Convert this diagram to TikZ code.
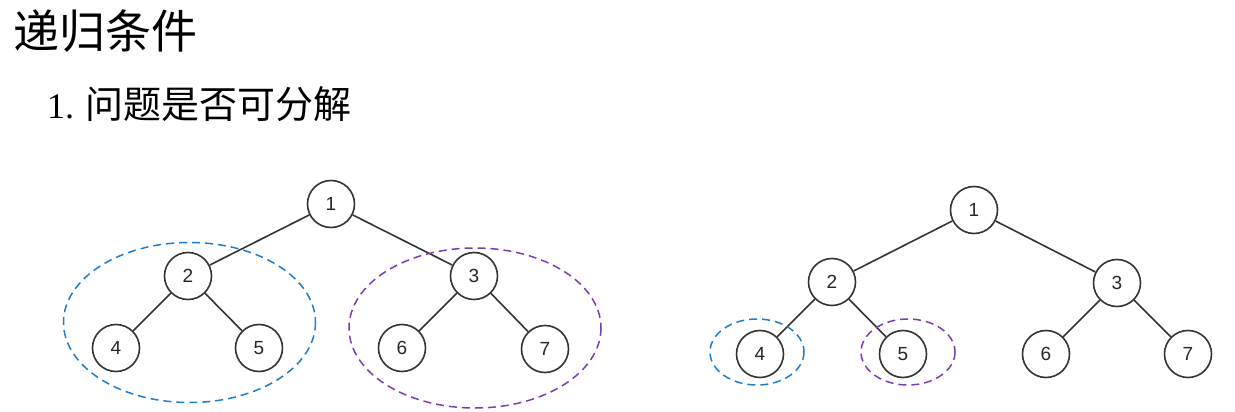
\documentclass[tikz,border=0pt]{standalone}
\usepackage{fontspec}
\setmainfont{Liberation Sans}
\newfontfamily\cjk{Noto Sans CJK SC}
\newfontfamily\serifnum{Liberation Serif}
\usetikzlibrary{shapes.geometric}
\definecolor{edgecol}{HTML}{333333}
\definecolor{bluedash}{HTML}{1C7CCF}
\definecolor{purpdash}{HTML}{7A3DB0}
\tikzset{
  tnode/.style={circle, draw=edgecol, line width=1.6pt, minimum size=47pt, inner sep=0pt, font=\fontsize{19}{19}\selectfont, text=black!85},
  tedge/.style={draw=edgecol, line width=1.6pt},
  bluering/.style={draw=bluedash, line width=1.5pt, dash pattern=on 8pt off 5pt},
  purpring/.style={draw=purpdash, line width=1.5pt, dash pattern=on 8pt off 5pt},
}
\begin{document}
\begin{tikzpicture}[x=1pt,y=-1pt]
\useasboundingbox (0,0) rectangle (1235,412);
% titles
\node[anchor=west, inner sep=0pt, font=\cjk\fontsize{46}{46}\selectfont] (title) at (13,31) {递归条件};
\node[anchor=west, inner sep=0pt] (sub) at (47,104) {{\serifnum\fontsize{36}{36}\selectfont 1.}\hspace{11pt}{\cjk\fontsize{38}{38}\selectfont 问题是否可分解}};
% left tree
\node[tnode] (L1) at (331,204) {1};
\node[tnode] (L2) at (188,276) {2};
\node[tnode] (L3) at (474,276) {3};
\node[tnode] (L4) at (116,348) {4};
\node[tnode] (L5) at (259,348) {5};
\node[tnode] (L6) at (402,348) {6};
\node[tnode] (L7) at (545,349) {7};
\draw[tedge] (L1) -- (L2);
\draw[tedge] (L1) -- (L3);
\draw[tedge] (L2) -- (L4);
\draw[tedge] (L2) -- (L5);
\draw[tedge] (L3) -- (L6);
\draw[tedge] (L3) -- (L7);
\draw[bluering] (189.5,322.5) ellipse [x radius=126, y radius=80];
\draw[purpring] (475,328) ellipse [x radius=126, y radius=80];
% right tree
\node[tnode] (R1) at (974,210) {1};
\node[tnode] (R2) at (832,282) {2};
\node[tnode] (R3) at (1117,283) {3};
\node[tnode] (R4) at (760,354) {4};
\node[tnode] (R5) at (903,354) {5};
\node[tnode] (R6) at (1046,354) {6};
\node[tnode] (R7) at (1188,354) {7};
\draw[tedge] (R1) -- (R2);
\draw[tedge] (R1) -- (R3);
\draw[tedge] (R2) -- (R4);
\draw[tedge] (R2) -- (R5);
\draw[tedge] (R3) -- (R6);
\draw[tedge] (R3) -- (R7);
\draw[bluering] (757,352) ellipse [x radius=47, y radius=33];
\draw[purpring] (908,352) ellipse [x radius=47, y radius=33];
\end{tikzpicture}
\end{document}
